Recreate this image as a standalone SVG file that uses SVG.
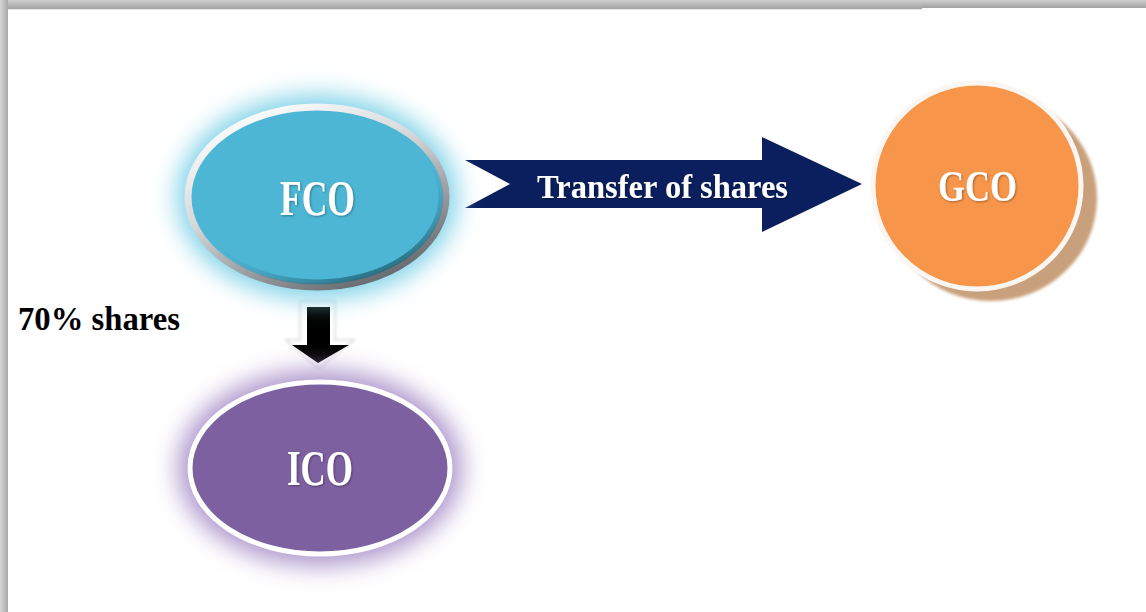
<svg xmlns="http://www.w3.org/2000/svg" width="1146" height="612" viewBox="0 0 1146 612">
<defs>
<linearGradient id="topBand" x1="0" y1="0" x2="0" y2="1"><stop offset="0" stop-color="#cfcfcf"/><stop offset="1" stop-color="#a2a2a2"/></linearGradient>
<linearGradient id="leftBand" x1="0" y1="0" x2="1" y2="0"><stop offset="0" stop-color="#d6d6d6"/><stop offset="1" stop-color="#a8a8a8"/></linearGradient>
<linearGradient id="silver" x1="0.2" y1="0" x2="0.8" y2="1"><stop offset="0" stop-color="#ffffff"/><stop offset="0.4" stop-color="#d5d9dc"/><stop offset="1" stop-color="#5d6166"/></linearGradient>
<linearGradient id="innerEdge" x1="0.2" y1="0" x2="0.8" y2="1"><stop offset="0" stop-color="#4db6d5" stop-opacity="0"/><stop offset="0.5" stop-color="#4db6d5" stop-opacity="0"/><stop offset="1" stop-color="#1f5f70"/></linearGradient>
<filter id="glow" x="-40%" y="-40%" width="180%" height="180%"><feGaussianBlur stdDeviation="12"/></filter>
<filter id="blur2" x="-10%" y="-10%" width="120%" height="120%"><feGaussianBlur stdDeviation="1.5"/></filter>
<filter id="tshadow" x="-10%" y="-20%" width="120%" height="140%"><feDropShadow dx="1" dy="1" stdDeviation="0.8" flood-color="#000" flood-opacity="0.35"/></filter>
</defs>
<style>
.lbl{font-family:"Liberation Serif","Times New Roman",serif;font-weight:bold;}
.w{fill:#ffffff;}
</style>
<rect x="0" y="0" width="1146" height="612" fill="#ffffff"/>
<g id="frame">
<rect x="0" y="0" width="922" height="9" fill="url(#topBand)"/>
<rect x="922" y="0" width="224" height="8" fill="url(#topBand)"/>
<rect x="0" y="0" width="8" height="612" fill="url(#leftBand)"/>
<rect x="8" y="9" width="914" height="1" fill="#e6e6e6"/>
</g>
<g id="connectors">
<g id="transfer-arrow">
<polygon points="465,160 762,160 762,137 862,184 762,232 762,208 465,208 510,184" fill="#0b1f5e"/>
<text class="lbl w" x="537" y="198" font-size="34" textLength="251" lengthAdjust="spacingAndGlyphs" filter="url(#tshadow)">Transfer of shares</text>
</g>
<g id="shares-arrow">
<polygon points="300,301 335,301 335,340 354,340 318,369 286,340 300,340" fill="#ffffff" stroke="#d8d8d8" stroke-width="1.5" filter="url(#blur2)"/>
<polygon points="307,307 330,307 330,345 349,345 318,363 292,345 307,345" fill="#000000"/>
</g>
</g>
<g id="label-70">
<text class="lbl" x="18" y="330" font-size="34" textLength="162" lengthAdjust="spacingAndGlyphs" fill="#000000">70% shares</text>
</g>
<g id="node-fco">
<ellipse cx="317" cy="197" rx="140" ry="102" fill="#7fd2e8" filter="url(#glow)"/>
<ellipse cx="317" cy="197" rx="129" ry="90" fill="#4db6d5" stroke="url(#silver)" stroke-width="7"/>
<ellipse cx="317" cy="197" rx="124" ry="85" fill="none" stroke="url(#innerEdge)" stroke-width="5"/>
<text class="lbl w" x="280" y="215" font-size="50" textLength="75" lengthAdjust="spacingAndGlyphs" filter="url(#tshadow)">FCO</text>
</g>
<g id="node-ico">
<ellipse cx="320" cy="468" rx="142" ry="98" fill="#ad95cc" filter="url(#glow)"/>
<ellipse cx="320" cy="468" rx="130" ry="86" fill="#7d60a0" stroke="#ffffff" stroke-width="5"/>
<text class="lbl w" x="287" y="485" font-size="50" textLength="66" lengthAdjust="spacingAndGlyphs" filter="url(#tshadow)">ICO</text>
</g>
<g id="node-gco">
<ellipse cx="991" cy="198" rx="106" ry="103" fill="#c9a07c" filter="url(#blur2)"/>
<ellipse cx="977" cy="186" rx="104" ry="103" fill="#f7964a" stroke="#fbf6f2" stroke-width="5"/>
<text class="lbl w" x="938" y="201" font-size="44" textLength="79" lengthAdjust="spacingAndGlyphs" filter="url(#tshadow)">GCO</text>
</g>
</svg>
